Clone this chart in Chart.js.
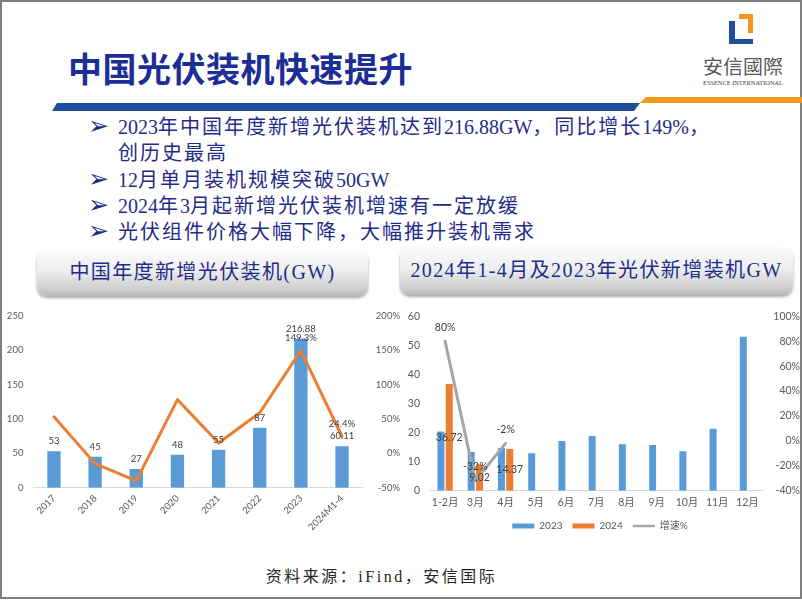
<!DOCTYPE html>
<html>
<head>
<meta charset="utf-8">
<script src="https://cdn.jsdelivr.net/npm/chart.js@4.4.1/dist/chart.umd.min.js"></script>
<style>
  body { margin: 0; width: 802px; height: 602px; position: relative; overflow: hidden; background: #fff; font-family: "Noto Sans CJK SC", sans-serif; }
  .frame { position: absolute; left: 0; top: 0; width: 802px; height: 599px; box-sizing: border-box; border: 2px solid #7f7f7f; }
  .title { position: absolute; left: 68px; top: 47px; line-height: 42px; font-size: 34px; font-weight: 700; color: #1c2d95; letter-spacing: 0.5px; }
  .bullet { position: absolute; left: 118px; line-height: 26px; font-size: 20px; letter-spacing: 2px; color: #1f2d8a; font-family: "Liberation Serif", "Noto Sans CJK SC", serif; white-space: nowrap; }
  .bullet .a { letter-spacing: 0; }
  .arrow { position: absolute; left: 88px; line-height: 26px; font-size: 25px; color: #1f2d8a; font-family: "DejaVu Sans", sans-serif; }
  .tab { position: absolute; border-radius: 10px; background: linear-gradient(#fbfbfb 0%, #eeeeee 45%, #cfcfcf 85%, #b8b8b8 100%); box-shadow: 0 2px 3px rgba(0, 0, 0, 0.35); color: #1f2d8a; font-size: 20px; letter-spacing: 1.4px; text-align: center; font-family: "Liberation Serif", "Noto Sans CJK SC", serif; white-space: nowrap; }
  .source { position: absolute; left: 0; width: 763px; text-align: center; top: 565px; line-height: 24px; font-size: 16px; letter-spacing: 2.5px; color: #262626; font-family: "Liberation Serif", "Noto Sans CJK SC", serif; }
  canvas { position: absolute; }
  #year-chart { left: 0; top: 300px; }
  #month-chart { left: 400px; top: 300px; }
</style>
</head>
<body>
<div class="frame"></div>

<svg width="802" height="120" style="position:absolute;left:0;top:0">
  <polygon points="57,103 640,103 634,111 52,111" fill="#1f4f9c" />
  <polygon points="646,97 802,97 802,103 640,103" fill="#f39a1f" />
  <polygon points="739,14 753,14 753,33 748,33 748,19 739,19" fill="#f0951f" />
  <polygon points="729,21 735,21 735,39 753,39 753,44 729,44" fill="#234e9b" />
  <text x="703" y="74" font-size="19" fill="#595959" font-family="Noto Sans CJK TC" textLength="80" lengthAdjust="spacingAndGlyphs">安信國際</text>
  <text x="703" y="85" font-size="6.5" fill="#404040" font-family="Liberation Serif" textLength="80" lengthAdjust="spacingAndGlyphs">ESSENCE INTERNATIONAL</text>
</svg>

<div class="title">中国光伏装机快速提升</div>

<div class="arrow" style="top:113px">➢</div>
<div class="bullet" style="top:114px"><span class="a">2023</span>年中国年度新增光伏装机达到<span class="a">216.88GW</span>，同比增长<span class="a">149%</span>，</div>
<div class="bullet" style="top:140px">创历史最高</div>
<div class="arrow" style="top:166px">➢</div>
<div class="bullet" style="top:167px"><span class="a">12</span>月单月装机规模突破<span class="a">50GW</span></div>
<div class="arrow" style="top:192px">➢</div>
<div class="bullet" style="top:193px"><span class="a">2024</span>年<span class="a">3</span>月起新增光伏装机增速有一定放缓</div>
<div class="arrow" style="top:218px">➢</div>
<div class="bullet" style="top:219px">光伏组件价格大幅下降，大幅推升装机需求</div>

<div class="tab" style="left:37px;top:249px;width:331px;height:47px;line-height:46px">中国年度新增光伏装机(GW)</div>
<div class="tab" style="left:400px;top:247px;width:393px;height:48px;line-height:47px">2024年1-4月及2023年光伏新增装机GW</div>

<canvas id="year-chart" width="400" height="230"></canvas>
<canvas id="month-chart" width="400" height="241"></canvas>

<div class="source">资料来源：iFind，安信国际</div>

<script>
const yearLabels = ["2017", "2018", "2019", "2020", "2021", "2022", "2023", "2024M1-4"];
const yearInstalled = [53, 45, 27, 48, 55, 87, 216.88, 60.11];
const yearGrowth = [53, -15, -40, 78, 15, 59, 149.3, 24.4];
const yearInstalledText = ["53", "45", "27", "48", "55", "87", "216.88", "60.11"];
const yearGrowthText = [null, null, null, null, null, null, "149.3%", "24.4%"];

const monthLabels = ["1-2月", "3月", "4月", "5月", "6月", "7月", "8月", "9月", "10月", "11月", "12月"];
const month2023 = [20.4, 13.3, 14.7, 12.9, 17.1, 18.8, 16.0, 15.7, 13.6, 21.3, 53.0];
const month2024 = [36.72, 9.02, 14.37, null, null, null, null, null, null, null, null];
const monthGrowth = [80, -32, -2, null, null, null, null, null, null, null, null];
const month2024Text = ["36.72", "9.02", "14.37"];
const monthGrowthText = ["80%", "-32%", "-2%"];

const fontFamily = 'Lato, "Noto Sans CJK SC", sans-serif';
Chart.defaults.font.family = fontFamily;
Chart.defaults.color = "#595959";

// draws the data labels above points / in the middle of bars
const valueLabels = {
  id: "valueLabels",
  afterDatasetsDraw(chart) {
    const { ctx } = chart;
    chart.data.datasets.forEach((ds, i) => {
      if (!ds.valueText) return;
      const meta = chart.getDatasetMeta(i);
      ctx.save();
      ctx.font = `${ds.valueFontSize || 10}px ${fontFamily}`;
      ctx.fillStyle = "#404040";
      ctx.textAlign = "center";
      ctx.textBaseline = "middle";
      meta.data.forEach((el, j) => {
        const text = ds.valueText[j];
        if (!text) return;
        const y = ds.valuePos === "center" ? (el.y + el.base) / 2 : el.y - ds.valueGap;
        ctx.fillText(text, el.x, y);
      });
      ctx.restore();
    });
  },
};

const noGrid = { display: false, drawTicks: false };

new Chart(document.getElementById("year-chart"), {
  data: {
    labels: yearLabels,
    datasets: [
      {
        type: "line",
        label: "增速",
        data: yearGrowth,
        yAxisID: "y1",
        borderColor: "#ED7D31",
        borderWidth: 3,
        borderJoinStyle: "round",
        borderCapStyle: "round",
        pointRadius: 0,
        order: 0,
        valueText: yearGrowthText,
        valueGap: 13,
        valueFontSize: 9.5,
      },
      {
        type: "bar",
        label: "新增装机",
        data: yearInstalled,
        yAxisID: "y",
        backgroundColor: "#5B9BD5",
        categoryPercentage: 0.8,
        barPercentage: 0.405,
        order: 1,
        valueText: yearInstalledText,
        valueGap: 10,
        valueFontSize: 9.5,
      },
    ],
  },
  options: {
    responsive: false,
    animation: false,
    layout: { padding: { top: 15, left: 0, right: 0, bottom: 0 } },
    plugins: { legend: { display: false }, tooltip: { enabled: false } },
    scales: {
      x: {
        grid: noGrid,
        border: { color: "#D9D9D9" },
        ticks: { minRotation: 45, maxRotation: 45, padding: 5, font: { size: 9.5 } },
        afterFit: (scale) => { scale.height = 42.3; },
      },
      y: {
        position: "left",
        min: 0,
        max: 250,
        grid: noGrid,
        border: { display: false },
        ticks: { stepSize: 50, padding: 10, font: { size: 9.5 } },
        afterFit: (scale) => { scale.width = 33.4; },
      },
      y1: {
        position: "right",
        min: -50,
        max: 200,
        grid: noGrid,
        border: { display: false },
        ticks: { stepSize: 50, padding: 8, crossAlign: "far", font: { size: 9.5 }, callback: (v) => v + "%" },
        afterFit: (scale) => { scale.width = 37.4; },
      },
    },
  },
  plugins: [valueLabels],
});

new Chart(document.getElementById("month-chart"), {
  data: {
    labels: monthLabels,
    datasets: [
      {
        type: "bar",
        label: "2023",
        data: month2023,
        yAxisID: "y",
        backgroundColor: "#5B9BD5",
        borderWidth: 0,
        categoryPercentage: 0.55,
        barPercentage: 0.84,
        order: 1,
      },
      {
        type: "bar",
        label: "2024",
        data: month2024,
        yAxisID: "y",
        backgroundColor: "#ED7D31",
        borderWidth: 0,
        categoryPercentage: 0.55,
        barPercentage: 0.84,
        order: 1,
        valueText: month2024Text,
        valuePos: "center",
        valueFontSize: 10.5,
      },
      {
        type: "line",
        label: "增速%",
        data: monthGrowth,
        yAxisID: "y1",
        borderColor: "#A5A5A5",
        borderWidth: 3,
        borderJoinStyle: "round",
        borderCapStyle: "round",
        pointRadius: 0,
        order: 0,
        valueText: monthGrowthText,
        valueGap: 14,
        valueFontSize: 10.5,
      },
    ],
  },
  options: {
    responsive: false,
    animation: false,
    layout: { padding: { top: 14.5, left: 0, right: 0, bottom: 0 } },
    plugins: {
      tooltip: { enabled: false },
      legend: {
        position: "bottom",
        labels: {
          usePointStyle: true,
          pointStyleWidth: 22,
          boxHeight: 5,
          padding: 10,
          color: "#595959",
          font: { size: 10 },
          generateLabels(chart) {
            const items = Chart.defaults.plugins.legend.labels.generateLabels(chart);
            items.forEach((item) => {
              const ds = chart.data.datasets[item.datasetIndex];
              if (ds.type === "line") {
                item.pointStyle = "line";
                item.strokeStyle = ds.borderColor;
                item.lineWidth = 2.5;
              } else {
                item.pointStyle = "rect";
                item.fillStyle = ds.backgroundColor;
                item.lineWidth = 0;
              }
            });
            return items.sort((a, b) => a.datasetIndex - b.datasetIndex);
          },
        },
      },
    },
    scales: {
      x: {
        grid: noGrid,
        border: { color: "#D9D9D9" },
        ticks: { maxRotation: 0, padding: 6, font: { size: 10.5 } },
        afterFit: (scale) => { scale.height = 20.3; },
      },
      y: {
        position: "left",
        min: 0,
        max: 60,
        grid: noGrid,
        border: { display: false },
        ticks: { stepSize: 10, padding: 10, font: { size: 10.5 } },
        afterFit: (scale) => { scale.width = 30; },
      },
      y1: {
        position: "right",
        min: -40,
        max: 100,
        grid: noGrid,
        border: { display: false },
        ticks: { stepSize: 20, padding: 8, crossAlign: "far", font: { size: 10.5 }, callback: (v) => v + "%" },
        afterFit: (scale) => { scale.width = 37.4; },
      },
    },
  },
  plugins: [valueLabels],
});
</script>
</body>
</html>
